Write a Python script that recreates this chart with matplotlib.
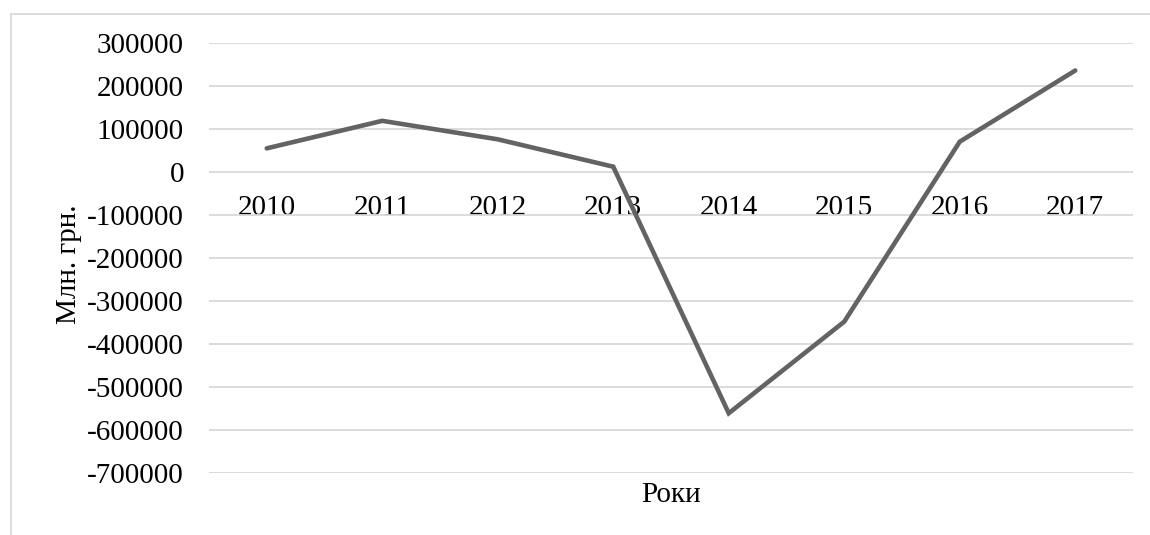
import matplotlib
matplotlib.use("Agg")
import matplotlib.pyplot as plt
from matplotlib.patches import Rectangle

years = ["2010", "2011", "2012", "2013", "2014", "2015", "2016", "2017"]
values = [55000, 119000, 76000, 12300, -561000, -348000, 70500, 236000]
yticks = [300000, 200000, 100000, 0, -100000, -200000, -300000, -400000, -500000, -600000, -700000]

plt.rcParams['font.family'] = ['Liberation Serif', 'DejaVu Serif']

W, H = 1150, 535
FS = 21
fig = plt.figure(figsize=(W / 100, H / 100), dpi=100)
fig.patch.set_facecolor('white')

left, right, top, bottom = 209, 1133, 43, 473
ax = fig.add_axes([left / W, 1 - bottom / H, (right - left) / W, (bottom - top) / H])

x = list(range(len(years)))
ax.plot(x, values, color='#636363', linewidth=3.3, solid_capstyle='round', solid_joinstyle='miter', zorder=3)

ax.set_xlim(-0.5, len(years) - 0.5)
ax.set_ylim(-700000, 300000)
ax.set_xticks(x)
ax.set_xticklabels(years)
ax.set_yticks(yticks)
ax.set_yticklabels([str(v) for v in yticks])
ax.spines['bottom'].set_position(('data', 0))
for s in ax.spines.values():
    s.set_visible(False)
ax.yaxis.grid(True, color='#d9d9d9', linewidth=1.3)
ax.set_axisbelow(True)
ax.tick_params(axis='y', length=0, pad=18, labelsize=FS)
ax.tick_params(axis='x', length=0, pad=16.5, labelsize=FS)

ax.set_ylabel("Млн. грн.", fontsize=FS)
ax.yaxis.set_label_coords((82 - left) / (right - left), (bottom - 264) / (bottom - top))
fig.text((left + right) / 2 / W, 1 - 495 / H, "Роки", fontsize=FS, ha='center', va='center')

fig.add_artist(Rectangle((11 / W, -0.1), 1.2, 1.1 - 14 / H, transform=fig.transFigure,
                         fill=False, edgecolor='#d9d9d9', linewidth=1.3))

fig.savefig("out.png", dpi=100)
